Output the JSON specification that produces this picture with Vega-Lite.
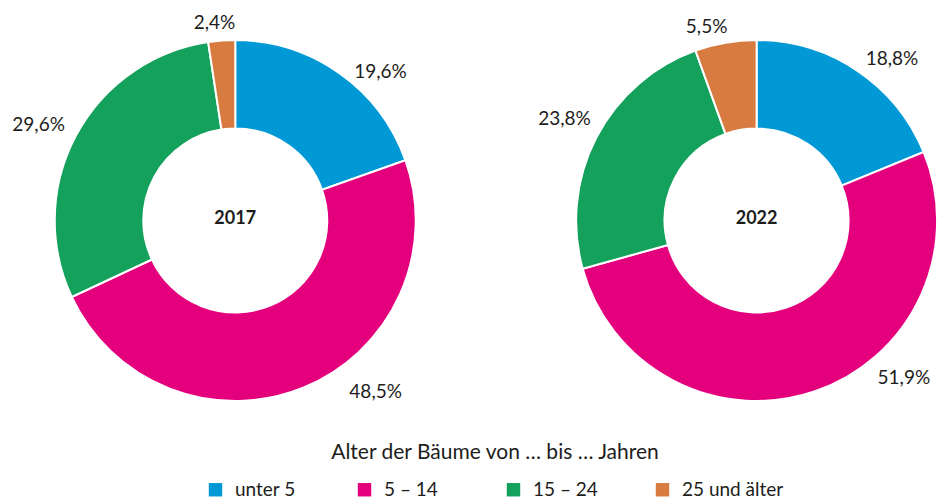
{
  "$schema": "https://vega.github.io/schema/vega-lite/v6.json",
  "width": 937,
  "height": 441,
  "padding": {"top": 0, "left": 0, "right": 0, "bottom": 61},
  "autosize": {"type": "none"},
  "background": "white",
  "config": {"view": {"stroke": null}, "font": "Lato", "text": {"font": "Lato", "color": "#1d1d1b"}},
  "datasets": {
    "d": [
      {"year": "2017", "age": "unter 5", "pct": 19.6, "label": "19,6%", "rank": 1},
      {"year": "2017", "age": "5 – 14", "pct": 48.5, "label": "48,5%", "rank": 2},
      {"year": "2017", "age": "15 – 24", "pct": 29.6, "label": "29,6%", "rank": 3},
      {"year": "2017", "age": "25 und älter", "pct": 2.4, "label": "2,4%", "rank": 4},
      {"year": "2022", "age": "unter 5", "pct": 18.8, "label": "18,8%", "rank": 1},
      {"year": "2022", "age": "5 – 14", "pct": 51.9, "label": "51,9%", "rank": 2},
      {"year": "2022", "age": "15 – 24", "pct": 23.8, "label": "23,8%", "rank": 3},
      {"year": "2022", "age": "25 und älter", "pct": 5.5, "label": "5,5%", "rank": 4}
    ]
  },
  "data": {"name": "d"},
  "layer": [
    {
      "transform": [{"filter": "datum.year == '2017'"}],
      "mark": {"type": "arc", "outerRadius": 180.5, "innerRadius": 92, "stroke": "white", "strokeWidth": 2},
      "encoding": {
        "x": {"field": "year", "type": "nominal", "axis": null, "scale": {"padding": 0.3986, "align": 0.566}},
        "theta": {"field": "pct", "type": "quantitative", "stack": true},
        "order": {"field": "rank", "type": "quantitative", "sort": "ascending"},
        "color": {
          "field": "age", "type": "nominal",
          "scale": {"domain": ["unter 5", "5 – 14", "15 – 24", "25 und älter"], "range": ["#0099d5", "#e4007c", "#13a15b", "#d77b40"]},
          "legend": {"orient": "none", "legendX": 206, "legendY": 442, "direction": "horizontal", "title": "Alter der Bäume von … bis … Jahren", "titleAnchor": "middle", "titleLimit": 0, "titleFontSize": 21, "titleFontWeight": "normal", "titleFont": "Lato", "titleColor": "#1d1d1b", "titlePadding": 17, "labelFont": "Lato", "labelFontSize": 19, "labelColor": "#1d1d1b", "labelOffset": 10, "labelLimit": 0, "symbolType": "square", "symbolSize": 180, "symbolStrokeWidth": 0, "symbolOpacity": 1, "gridAlign": "all", "columnPadding": 18}
        }
      }
    },
    {
      "transform": [{"filter": "datum.year == '2022'"}],
      "mark": {"type": "arc", "outerRadius": 180.5, "innerRadius": 92, "stroke": "white", "strokeWidth": 2},
      "encoding": {
        "x": {"field": "year", "type": "nominal", "axis": null},
        "theta": {"field": "pct", "type": "quantitative", "stack": true},
        "order": {"field": "rank", "type": "quantitative", "sort": "ascending"},
        "color": {"field": "age", "type": "nominal"}
      }
    },
    {
      "transform": [{"filter": "datum.year == '2017'"}],
      "mark": {"type": "text", "radius": 207.8, "thetaOffset": 0.159, "fontSize": 19, "align": "center", "baseline": "middle"},
      "encoding": {
        "x": {"field": "year", "type": "nominal"},
        "theta": {"field": "pct", "type": "quantitative", "stack": true},
        "order": {"field": "rank", "type": "quantitative", "sort": "ascending"},
        "detail": {"field": "age"},
        "text": {"condition": {"test": "datum.age == 'unter 5'", "field": "label", "type": "nominal"}, "value": ""}
      }
    },
    {
      "transform": [{"filter": "datum.year == '2017'"}],
      "mark": {"type": "text", "radius": 221.6, "thetaOffset": -0.297, "fontSize": 19, "align": "center", "baseline": "middle"},
      "encoding": {
        "x": {"field": "year", "type": "nominal"},
        "theta": {"field": "pct", "type": "quantitative", "stack": true},
        "order": {"field": "rank", "type": "quantitative", "sort": "ascending"},
        "detail": {"field": "age"},
        "text": {"condition": {"test": "datum.age == '5 – 14'", "field": "label", "type": "nominal"}, "value": ""}
      }
    },
    {
      "transform": [{"filter": "datum.year == '2017'"}],
      "mark": {"type": "text", "radius": 218.5, "thetaOffset": -0.040, "fontSize": 19, "align": "center", "baseline": "middle"},
      "encoding": {
        "x": {"field": "year", "type": "nominal"},
        "theta": {"field": "pct", "type": "quantitative", "stack": true},
        "order": {"field": "rank", "type": "quantitative", "sort": "ascending"},
        "detail": {"field": "age"},
        "text": {"condition": {"test": "datum.age == '15 – 24'", "field": "label", "type": "nominal"}, "value": ""}
      }
    },
    {
      "transform": [{"filter": "datum.year == '2017'"}],
      "mark": {"type": "text", "radius": 198.1, "thetaOffset": -0.030, "fontSize": 19, "align": "center", "baseline": "middle"},
      "encoding": {
        "x": {"field": "year", "type": "nominal"},
        "theta": {"field": "pct", "type": "quantitative", "stack": true},
        "order": {"field": "rank", "type": "quantitative", "sort": "ascending"},
        "detail": {"field": "age"},
        "text": {"condition": {"test": "datum.age == '25 und älter'", "field": "label", "type": "nominal"}, "value": ""}
      }
    },
    {
      "transform": [{"filter": "datum.year == '2022'"}],
      "mark": {"type": "text", "radius": 210.9, "thetaOffset": 0.106, "fontSize": 19, "align": "center", "baseline": "middle"},
      "encoding": {
        "x": {"field": "year", "type": "nominal"},
        "theta": {"field": "pct", "type": "quantitative", "stack": true},
        "order": {"field": "rank", "type": "quantitative", "sort": "ascending"},
        "detail": {"field": "age"},
        "text": {"condition": {"test": "datum.age == 'unter 5'", "field": "label", "type": "nominal"}, "value": ""}
      }
    },
    {
      "transform": [{"filter": "datum.year == '2022'"}],
      "mark": {"type": "text", "radius": 215.6, "thetaOffset": -0.422, "fontSize": 19, "align": "center", "baseline": "middle"},
      "encoding": {
        "x": {"field": "year", "type": "nominal"},
        "theta": {"field": "pct", "type": "quantitative", "stack": true},
        "order": {"field": "rank", "type": "quantitative", "sort": "ascending"},
        "detail": {"field": "age"},
        "text": {"condition": {"test": "datum.age == '5 – 14'", "field": "label", "type": "nominal"}, "value": ""}
      }
    },
    {
      "transform": [{"filter": "datum.year == '2022'"}],
      "mark": {"type": "text", "radius": 217.3, "thetaOffset": 0.009, "fontSize": 19, "align": "center", "baseline": "middle"},
      "encoding": {
        "x": {"field": "year", "type": "nominal"},
        "theta": {"field": "pct", "type": "quantitative", "stack": true},
        "order": {"field": "rank", "type": "quantitative", "sort": "ascending"},
        "detail": {"field": "age"},
        "text": {"condition": {"test": "datum.age == '15 – 24'", "field": "label", "type": "nominal"}, "value": ""}
      }
    },
    {
      "transform": [{"filter": "datum.year == '2022'"}],
      "mark": {"type": "text", "radius": 199.9, "thetaOffset": -0.080, "fontSize": 19, "align": "center", "baseline": "middle"},
      "encoding": {
        "x": {"field": "year", "type": "nominal"},
        "theta": {"field": "pct", "type": "quantitative", "stack": true},
        "order": {"field": "rank", "type": "quantitative", "sort": "ascending"},
        "detail": {"field": "age"},
        "text": {"condition": {"test": "datum.age == '25 und älter'", "field": "label", "type": "nominal"}, "value": ""}
      }
    },
    {
      "transform": [{"filter": "datum.rank == 1"}],
      "mark": {"type": "text", "fontSize": 18, "fontWeight": "bold", "align": "center", "baseline": "middle", "dy": -2},
      "encoding": {
        "x": {"field": "year", "type": "nominal"},
        "text": {"field": "year", "type": "nominal"}
      }
    }
  ],
  "resolve": {"scale": {"theta": "independent"}}
}
